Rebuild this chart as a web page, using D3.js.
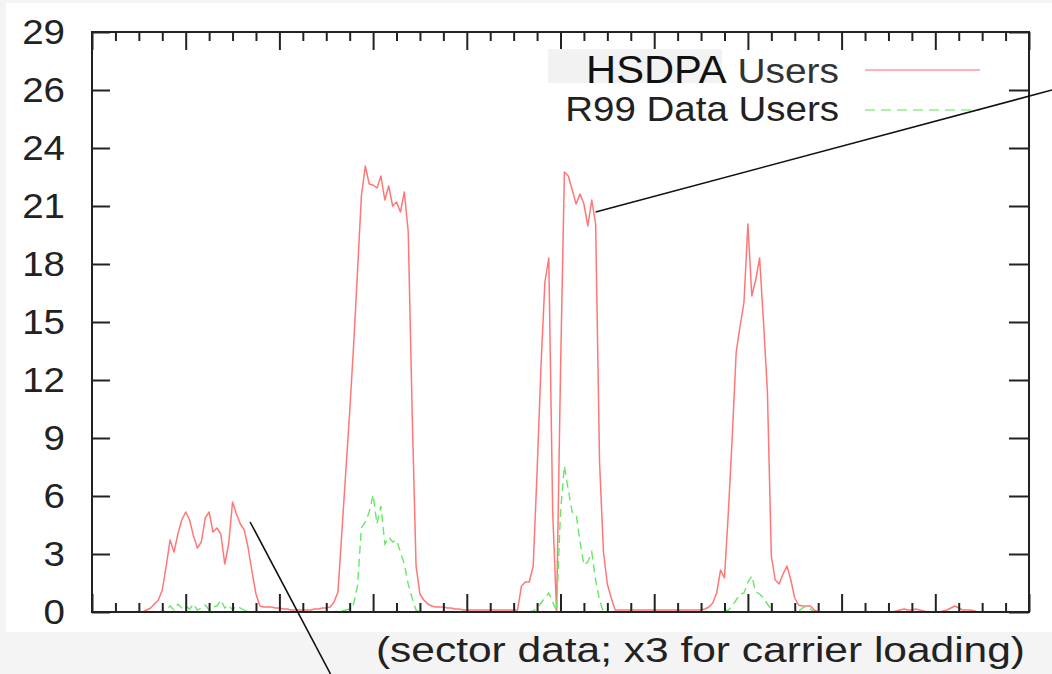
<!DOCTYPE html>
<html><head><meta charset="utf-8">
<script src="https://cdn.jsdelivr.net/npm/d3@7/dist/d3.min.js"></script>
<style>
body{margin:0;background:#f4f4f4;}
svg{display:block;}
</style>
</head><body>
<svg id="chart" width="1052" height="674"></svg>
<script>
// ---- data (one sample per hour) ----
const sampleStepHours = 1;
const hsdpaUsers = [
  0,0,0,0,0,0,0,0,0,0,
  0,0,0,0,0.1,0.2,0.4,0.6,1.1,2.3,
  3.6,3.0,3.9,4.6,5.0,4.6,3.8,3.2,3.5,4.7,
  5.0,4.0,4.2,3.9,2.4,3.4,5.5,4.9,4.4,4.1,
  3.2,2.0,0.9,0.3,0.25,0.25,0.25,0.2,0.2,0.15,
  0.15,0.1,0.1,0.1,0.1,0.1,0.1,0.15,0.15,0.2,
  0.2,0.25,0.5,1.0,4.0,7.0,10.0,13.3,17.0,20.8,
  22.3,21.4,21.35,21.2,21.8,20.6,21.3,20.3,20.5,20.0,
  21.0,19.0,10.0,2.3,0.9,0.6,0.4,0.3,0.25,0.25,
  0.25,0.2,0.2,0.15,0.15,0.1,0.1,0.1,0.1,0.1,
  0.1,0.1,0.1,0.1,0.1,0.1,0.1,0.1,0.1,0.1,
  1.3,1.5,1.5,2.3,7.0,12.3,16.5,17.7,5.0,0,
  12.0,22.0,21.8,21.1,20.4,20.9,20.4,19.3,20.6,19.4,
  7.5,3.0,1.4,0.7,0.1,0.1,0.1,0.1,0.1,0.1,
  0.1,0.1,0.1,0.1,0.1,0.1,0.1,0.1,0.1,0.1,
  0.1,0.1,0.1,0.1,0.1,0.1,0.1,0.15,0.25,0.45,
  0.95,2.1,1.7,5.0,8.8,13.0,14.3,15.5,19.4,15.8,
  16.6,17.7,14.5,11.0,2.8,1.6,1.4,1.9,2.3,1.6,
  0.7,0.35,0.3,0.3,0.3,0.1,0,0,0,0,
  0,0,0,0,0,0,0,0,0,0,
  0,0,0,0,0,0,0.05,0.1,0.15,0.1,
  0.1,0.15,0.1,0.05,0,0,0,0,0.05,0.1,
  0.2,0.3,0.2,0.1,0.1,0.1,0.05,0,0,0,
  0,0,0,0,0,0,0,0,0,0,
  0
];
const r99DataUsers = [
  0,0,0,0,0,0,0,0,0,0,
  0,0,0,0,0,0,0,0,0,0.1,
  0.3,0.1,0.4,0.2,0.3,0.15,0.4,0.1,0.2,0.35,
  0.1,0.25,0.3,0.6,0.2,0.35,0.1,0.3,0.2,0.1,
  0,0,0,0,0,0,0,0,0,0,
  0,0,0,0,0,0,0,0,0,0,
  0,0,0,0.05,0.05,0.1,0.15,0.4,1.3,4.2,
  4.5,5.0,5.85,4.4,5.3,3.4,3.75,3.5,3.6,3.0,
  2.4,1.4,0.7,0.1,0,0,0,0,0,0,
  0,0,0,0,0,0,0,0,0,0,
  0,0,0,0,0,0,0,0,0,0,
  0,0,0,0.05,0.2,0.45,0.7,0.95,0.5,0.05,
  5.0,7.3,6.1,5.0,4.9,3.5,2.35,2.5,3.0,1.6,
  0.6,0,0,0,0,0,0,0,0,0,
  0,0,0,0,0,0,0,0,0,0,
  0,0,0,0,0,0,0,0,0,0,
  0,0,0.05,0.1,0.3,0.6,0.9,0.95,1.5,1.8,
  1.0,0.9,0.7,0.4,0.1,0,0,0,0,0,
  0,0.05,0.2,0.3,0.15,0,0,0,0,0,
  0,0,0,0,0,0,0,0,0,0,
  0,0,0,0,0,0,0,0,0,0,
  0,0,0,0,0,0,0,0,0,0,
  0,0,0,0,0,0,0,0,0,0,
  0,0,0,0,0,0,0,0,0,0,
  0
];
const seriesNames = ["HSDPA", "Users", "R99 Data Users"];
const yTickValues = [0, 2.9, 5.8, 8.7, 11.6, 14.5, 17.4, 20.3, 23.2, 26.1, 29];
const yTickLabels = ["0", "3", "6", "9", "12", "15", "18", "21", "24", "26", "29"];
const xDomain = [0, 240];
const yDomain = [0, 29];
const xMinorStep = 6;
const xMajorStep = 24;
const captionText = "(sector data; x3 for carrier loading)";
// annotation pointer lines, in data units: [hour, users]
const pointerLines = [
  {from: [245.9, 26.1], to: [129, 20.0]},
  {from: [61.1, -3.1], to: [40.5, 4.5]}
];

// ---- layout ----
const W = 1052, H = 674;
const plot = {left: 92, right: 1029, top: 32, bottom: 612};
const font = "'Liberation Sans', Arial, Helvetica, sans-serif";
const svg = d3.select("#chart");

svg.append("rect").attr("x", 0).attr("y", 0).attr("width", W).attr("height", H).attr("fill", "#f4f4f4");
svg.append("rect").attr("x", 6).attr("y", 3).attr("width", W - 6).attr("height", 629).attr("fill", "#ffffff");

const x = d3.scaleLinear().domain(xDomain).range([plot.left, plot.right]);
const y = d3.scaleLinear().domain(yDomain).range([plot.bottom, plot.top]);

const minorTicks = d3.range(xDomain[0], xDomain[1] + 0.001, xMinorStep).filter(v => v % xMajorStep !== 0);
const majorTicks = d3.range(xDomain[0], xDomain[1] + 0.001, xMajorStep);

// series
const line = d3.line().x((d, i) => x(i * sampleStepHours)).y(d => y(d));
const plotG = svg.append("g");
plotG.append("path").datum(hsdpaUsers)
  .attr("d", line).attr("fill", "none")
  .attr("stroke", "#ff7777").attr("stroke-width", 1.5).attr("stroke-linejoin", "round");
plotG.append("path").datum(r99DataUsers)
  .attr("d", line).attr("fill", "none")
  .attr("stroke", "#66e866").attr("stroke-width", 1.4).attr("stroke-dasharray", "8,5");

// axes (ticks inward, mirrored)
function styleAxis(g) {
  g.select(".domain").remove();
  g.selectAll(".tick line").attr("stroke", "#222").attr("stroke-width", 2);
}
svg.append("g").attr("transform", `translate(0,${plot.bottom})`)
  .call(d3.axisTop(x).tickValues(minorTicks).tickSize(9).tickFormat("")).call(styleAxis);
svg.append("g").attr("transform", `translate(0,${plot.bottom})`)
  .call(d3.axisTop(x).tickValues(majorTicks).tickSize(18).tickFormat("")).call(styleAxis);
svg.append("g").attr("transform", `translate(0,${plot.top})`)
  .call(d3.axisBottom(x).tickValues(minorTicks).tickSize(9).tickFormat("")).call(styleAxis);
svg.append("g").attr("transform", `translate(0,${plot.top})`)
  .call(d3.axisBottom(x).tickValues(majorTicks).tickSize(18).tickFormat("")).call(styleAxis);
svg.append("g").attr("transform", `translate(${plot.right},0)`)
  .call(d3.axisRight(y).tickValues(yTickValues).tickSize(-20).tickFormat("")).call(styleAxis);

const sx = 1.1;
const yAxisG = svg.append("g").attr("transform", `translate(${plot.left},0)`)
  .call(d3.axisLeft(y).tickValues(yTickValues).tickSizeInner(-18).tickSizeOuter(0).tickPadding(27)
    .tickFormat((d, i) => yTickLabels[i]))
  .call(styleAxis);
yAxisG.selectAll(".tick text")
  .attr("font-family", font).attr("font-size", 35).attr("fill", "#222")
  .attr("x", -27 / sx).attr("transform", `scale(${sx},1)`);

svg.append("rect").attr("x", plot.left).attr("y", plot.top)
  .attr("width", plot.right - plot.left).attr("height", plot.bottom - plot.top)
  .attr("fill", "none").attr("stroke", "#222").attr("stroke-width", 2);

// text helper
function label(px, py, str, size, anchor, scale, color) {
  return svg.append("g").attr("transform", `translate(${px},${py}) scale(${scale},1)`)
    .append("text").attr("font-family", font).attr("font-size", size)
    .attr("text-anchor", anchor).attr("fill", color).text(str);
}

// legend
svg.append("rect").attr("x", 548).attr("y", 49).attr("width", 174).attr("height", 34).attr("fill", "#f2f2f2");
label(586, 83, seriesNames[0], 39, "start", 1.07, "#111");
label(839, 83, seriesNames[1], 36, "end", 1.08, "#333");
label(839, 121, seriesNames[2], 35, "end", 1.1, "#222");
const legendX = [865, 980];
svg.append("line").attr("x1", legendX[0]).attr("x2", legendX[1]).attr("y1", 70).attr("y2", 70)
  .attr("stroke", "#ff9a9a").attr("stroke-width", 1.5);
svg.append("line").attr("x1", legendX[0]).attr("x2", legendX[1]).attr("y1", 110).attr("y2", 110)
  .attr("stroke", "#8ff08f").attr("stroke-width", 1.5).attr("stroke-dasharray", "10,6");

// caption
label(1025, 662, captionText, 36, "end", 1.18, "#222");

// pointer lines
pointerLines.forEach(p => {
  svg.append("line")
    .attr("x1", x(p.from[0])).attr("y1", y(p.from[1]))
    .attr("x2", x(p.to[0])).attr("y2", y(p.to[1]))
    .attr("stroke", "#111").attr("stroke-width", 1.6);
});
</script>
</body></html>
